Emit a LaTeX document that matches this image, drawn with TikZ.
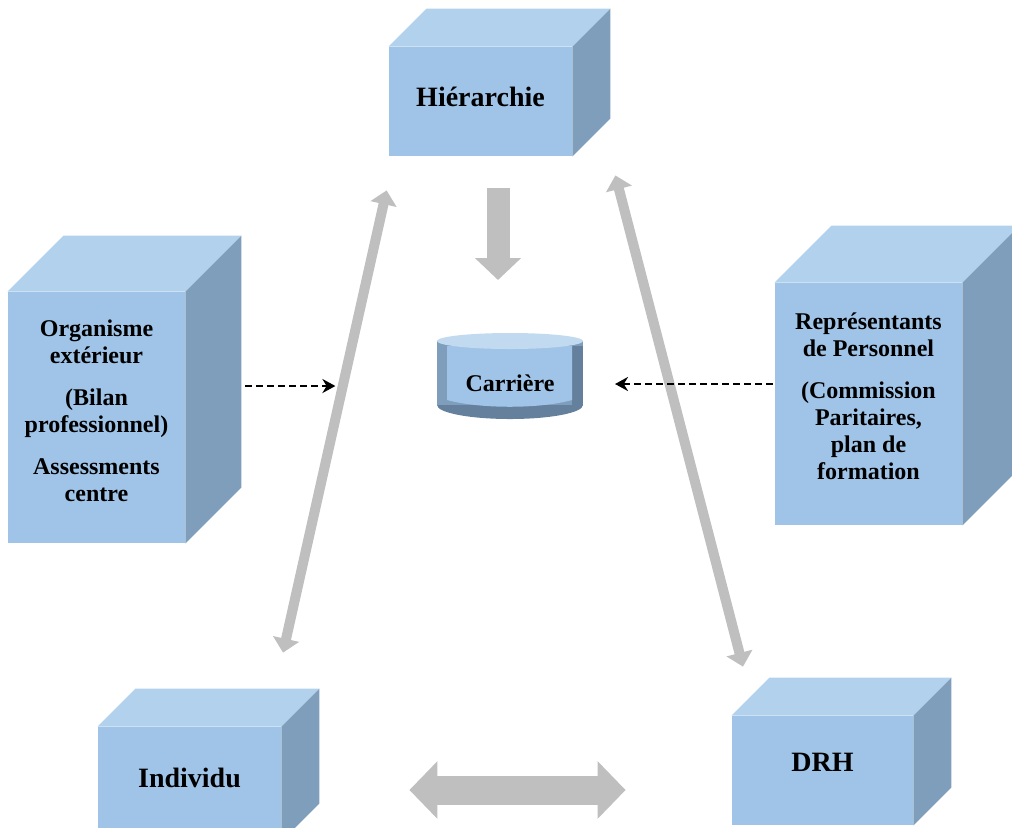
\documentclass[tikz,border=0pt]{standalone}
\usepackage{fontspec}
\setmainfont{Liberation Serif}
\usetikzlibrary{positioning}
\usetikzlibrary{calc}
\usetikzlibrary{arrows.meta}

\definecolor{frontblue}{RGB}{160,196,232}
\definecolor{topblue}{RGB}{178,209,236}
\definecolor{sideblue}{RGB}{127,158,188}
\definecolor{darkblue}{RGB}{100,128,156}
\definecolor{arrowgrey}{RGB}{191,191,191}

\begin{document}
\begin{tikzpicture}[
    x=0.5pt, y=-0.5pt,
    front face/.style={fill=frontblue, inner sep=0pt},
    box text/.style={
        inner sep=0pt, align=center,
        font=\bfseries\fontsize{12}{13.5}\selectfont
    },
    big text/.style={font=\bfseries\fontsize{14}{16}\selectfont},
    thin grey arrow/.style={
        draw=arrowgrey, line width=5pt,
        {Triangle[width=13pt,length=7pt]}-{Triangle[width=13pt,length=7pt]}
    },
    block arrow/.style={
        draw=arrowgrey, line width=11.5pt,
        -{Triangle[width=22.5pt,length=11pt]}
    },
    double block arrow/.style={
        draw=arrowgrey, line width=14.5pt,
        {Triangle[width=28pt,length=14pt]}-{Triangle[width=28pt,length=14pt]}
    },
    dash arrow/.style={
        draw=black, line width=1.2pt, dash pattern=on 3.5pt off 2pt,
        -{Stealth[length=6.5pt,width=7pt]}
    }
]
\useasboundingbox (0,0) rectangle (1012,827);
\clip (0,0) rectangle (1012,827);

% front faces of the boxes
\node[front face, minimum width=91.5pt, minimum height=54.5pt] (hier) at (480.5,101.5) {};
\node[front face, minimum width=88.5pt, minimum height=125.5pt] (org) at (96.5,417.5) {};
\node[front face, minimum width=93.5pt, minimum height=121pt] (rep) at (868.5,404) {};
\node[front face, minimum width=91.5pt, minimum height=57pt] (indiv) at (189.5,784) {};
\node[front face, minimum width=90.5pt, minimum height=54.5pt] (drh) at (822.5,770.5) {};

% top and side faces
\foreach \n/\d in {hier/38,org/56,rep/57,indiv/38,drh/38}{
    \fill[topblue] (\n.north west) -- ($(\n.north west)+(\d,-\d)$) -- ($(\n.north east)+(\d,-\d)$) -- (\n.north east) -- cycle;
    \fill[sideblue] (\n.north east) -- ($(\n.north east)+(\d,-\d)$) -- ($(\n.south east)+(\d,-\d)$) -- (\n.south east) -- cycle;
}

% texts
\node[box text, big text] (hier text) at ($(hier)+(0,-5)$) {Hiérarchie};
\node[box text] (org text) at ($(org)+(0,-7)$)
    {Organisme\\extérieur\\[7.5pt](Bilan\\professionnel)\\[7.5pt]Assessments\\centre};
\node[box text] (rep text) at ($(rep)+(0,-8)$)
    {Représentants\\de Personnel\\[7.5pt](Commission\\Paritaires,\\plan de\\formation};
\node[box text, big text] (indiv text) at ($(indiv)+(0,-6)$) {Individu};
\node[box text, big text] (drh text) at ($(drh)+(0,-8)$) {DRH};

% the disc
\fill[darkblue] (510,405) ellipse [x radius=36.5pt, y radius=7pt];
\fill[sideblue] (437,341) rectangle (583,405);
\fill[darkblue] (572,346) rectangle (583,405);
\fill[frontblue] (447,346) -- (447,400) .. controls (480,409) and (540,409) .. (572,400) -- (572,346) -- cycle;
\fill[topblue!80!white] (510,341) ellipse [x radius=36.5pt, y radius=4pt];
\node[box text] (car) at (510,383) {Carrière};

% connectors
\draw[block arrow] ($(hier.south)+(17.5,32)$) -- ($(car)+(-12,-103)$);
\draw[thin grey arrow] ($(hier.south west)+(-2,34)$) -- ($(indiv.north)+(93.5,-74)$);
\draw[thin grey arrow] ($(hier.south east)+(43,19)$) -- ($(drh.north)+(-79.5,-49)$);
\draw[double block arrow] ($(indiv.east)+(128,6)$) -- ($(drh.west)+(-106,19.5)$);
\draw[dash arrow] ($(org.east)+(60,-31.5)$) -- ($(org.east)+(150,-31.5)$);
\draw[dash arrow] ($(rep.west)+(-2,-20)$) -- ($(car)+(105,1)$);
\end{tikzpicture}
\end{document}
